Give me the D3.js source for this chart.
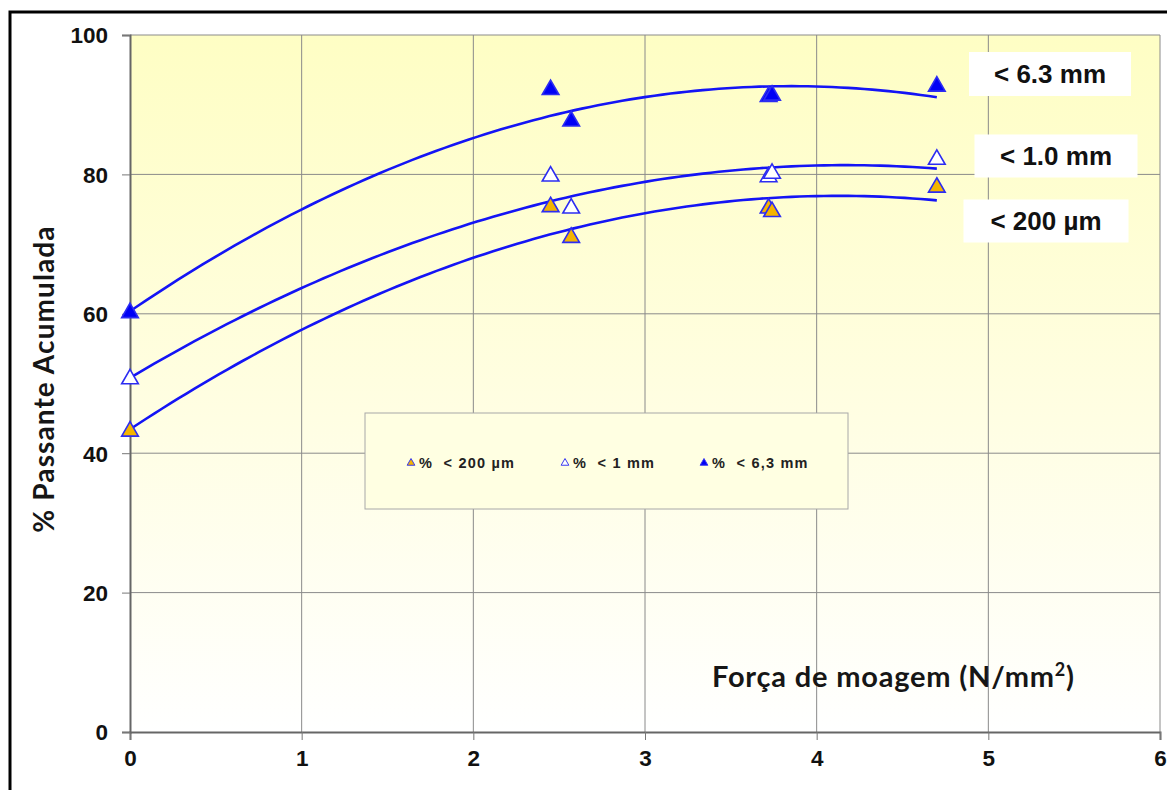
<!DOCTYPE html>
<html>
<head>
<meta charset="utf-8">
<script src="https://cdn.jsdelivr.net/npm/d3@7"></script>
<style>
  html, body { margin: 0; padding: 0; background: #fff; }
  svg { display: block; }
</style>
</head>
<body>
<svg id="chart" width="1167" height="790"></svg>
<script>
// Grinding force (N/mm²) for each test
const forca = [0, 2.45, 2.57, 3.72, 3.74, 4.7];
// Cumulative % passing for each size fraction
const passa200um = [43, 75.2, 70.8, 75, 74.5, 78];
const passa1mm   = [50.5, 79.6, 75, 79.5, 80, 82];
const passa63mm  = [60, 92, 87.5, 91, 91.2, 92.5];

const xTicks = [0, 1, 2, 3, 4, 5, 6];
const yTicks = [0, 20, 40, 60, 80, 100];

const series = [
  { key: "200um", values: passa200um, fill: "#F4B400", legend: "% < 200 µm", tag: "< 200 µm" },
  { key: "1mm",   values: passa1mm,   fill: "#FFFFFF", legend: "% < 1 mm",   tag: "< 1.0 mm" },
  { key: "63mm",  values: passa63mm,  fill: "#0000F5", legend: "% < 6,3 mm", tag: "< 6.3 mm" }
];

const svg = d3.select("#chart");
const plotL = 130, plotR = 1160, plotT = 35, plotB = 732;

const x = d3.scaleLinear().domain([0, 6]).range([plotL, plotR]);
const y = d3.scaleLinear().domain([0, 100]).range([plotB, plotT]);

// outer frame
svg.append("rect")
  .attr("x", 10).attr("y", 12).attr("width", 1170).attr("height", 800)
  .attr("fill", "none").attr("stroke", "#000").attr("stroke-width", 3);

// plot background gradient
const defs = svg.append("defs");
const grad = defs.append("linearGradient").attr("id", "bg")
  .attr("x1", 0).attr("y1", 0).attr("x2", 0).attr("y2", 1);
grad.append("stop").attr("offset", "0%").attr("stop-color", "#FEFEC4");
grad.append("stop").attr("offset", "55%").attr("stop-color", "#FFFEE3");
grad.append("stop").attr("offset", "100%").attr("stop-color", "#FFFFFF");

svg.append("rect")
  .attr("x", plotL).attr("y", plotT)
  .attr("width", plotR - plotL).attr("height", plotB - plotT)
  .attr("fill", "url(#bg)");

// grid lines
const grid = svg.append("g").attr("stroke", "#8a8a8a").attr("stroke-width", 1);
grid.selectAll("line.v").data(xTicks.slice(1)).join("line")
  .attr("x1", d => x(d)).attr("x2", d => x(d))
  .attr("y1", plotT).attr("y2", plotB);
grid.selectAll("line.h").data(yTicks.slice(1)).join("line")
  .attr("x1", plotL).attr("x2", plotR)
  .attr("y1", d => y(d)).attr("y2", d => y(d));

// axes
const xAxis = svg.append("g")
  .attr("transform", `translate(0,${plotB})`)
  .call(d3.axisBottom(x).tickValues(xTicks).tickSize(8).tickPadding(10).tickFormat(d3.format("d")));
const yAxis = svg.append("g")
  .attr("transform", `translate(${plotL},0)`)
  .call(d3.axisLeft(y).tickValues(yTicks).tickSize(8).tickPadding(14).tickFormat(d3.format("d")));
[xAxis, yAxis].forEach(a => {
  a.select(".domain").attr("stroke", "#666").attr("stroke-width", 2);
  a.selectAll(".tick line").attr("stroke", "#777").attr("stroke-width", 1);
  a.selectAll(".tick text")
    .attr("fill", "#111")
    .style("font-family", "'Liberation Sans', Arial, sans-serif")
    .style("font-weight", "bold")
    .style("font-size", "22.5px");
});
yAxis.selectAll(".tick text").attr("dy", "0.35em");

// quadratic least-squares trend for each series
function quadFit(xs, ys) {
  const n = xs.length;
  const s = [0, 0, 0, 0, 0], t = [0, 0, 0];
  for (let i = 0; i < n; i++) {
    const xi = xs[i], yi = ys[i];
    for (let k = 0; k <= 4; k++) s[k] += Math.pow(xi, k);
    for (let k = 0; k <= 2; k++) t[k] += yi * Math.pow(xi, k);
  }
  const A = [[s[0], s[1], s[2], t[0]], [s[1], s[2], s[3], t[1]], [s[2], s[3], s[4], t[2]]];
  for (let i = 0; i < 3; i++) {
    for (let j = i + 1; j < 3; j++) {
      const f = A[j][i] / A[i][i];
      for (let k = i; k < 4; k++) A[j][k] -= f * A[i][k];
    }
  }
  const c = [0, 0, 0];
  for (let i = 2; i >= 0; i--) {
    let v = A[i][3];
    for (let k = i + 1; k < 3; k++) v -= A[i][k] * c[k];
    c[i] = v / A[i][i];
  }
  return xv => c[0] + c[1] * xv + c[2] * xv * xv;
}

const line = d3.line().x(d => x(d[0])).y(d => y(d[1])).curve(d3.curveLinear);
const xMax = d3.max(forca);
series.forEach(s => {
  const f = quadFit(forca, s.values);
  const pts = d3.range(0, 101).map(i => { const xv = xMax * i / 100; return [xv, f(xv)]; });
  svg.append("path").datum(pts)
    .attr("d", line)
    .attr("fill", "none")
    .attr("stroke", "#1414F5")
    .attr("stroke-width", 2.6);
});

// markers
const tri = d3.symbol().type(d3.symbolTriangle).size(120);
series.forEach(s => {
  svg.append("g").selectAll("path").data(s.values).join("path")
    .attr("d", tri)
    .attr("transform", (d, i) => `translate(${x(forca[i])},${y(d) - 1})`)
    .attr("fill", s.fill)
    .attr("stroke", "#2C2CF2")
    .attr("stroke-width", 1.6);
});

// series tags on the right
const tags = [
  { s: series[2], cx: 1050, cy: 74, w: 162, h: 44 },
  { s: series[1], cx: 1056, cy: 156, w: 163, h: 43 },
  { s: series[0], cx: 1046, cy: 221, w: 165, h: 43 }
];
tags.forEach(t => {
  svg.append("rect")
    .attr("x", t.cx - t.w / 2).attr("y", t.cy - t.h / 2)
    .attr("width", t.w).attr("height", t.h).attr("fill", "#fff");
  svg.append("text")
    .attr("x", t.cx).attr("y", t.cy).attr("dy", "0.36em")
    .attr("text-anchor", "middle")
    .style("font-family", "'Liberation Sans', Arial, sans-serif")
    .style("font-weight", "bold").style("font-size", "26px")
    .attr("fill", "#111")
    .text(t.s.tag);
});

// legend
const lg = svg.append("g");
lg.append("rect")
  .attr("x", 365).attr("y", 413).attr("width", 483).attr("height", 96)
  .attr("fill", "#FFFFE2").attr("stroke", "#a8a8a8").attr("stroke-width", 1);
const legX = [411, 565, 704];
series.forEach((s, i) => {
  lg.append("path")
    .attr("d", d3.symbol().type(d3.symbolTriangle).size(26))
    .attr("transform", `translate(${legX[i]},${463})`)
    .attr("fill", s.fill).attr("stroke", "#3a3af0").attr("stroke-width", 1);
  lg.append("text")
    .attr("x", legX[i] + 8).attr("y", 463).attr("dy", "0.36em")
    .style("font-family", "'Liberation Sans', Arial, sans-serif")
    .style("font-weight", "bold").style("font-size", "14.5px")
    .style("letter-spacing", "1.2px")
    .style("white-space", "pre")
    .attr("fill", "#222")
    .text(s.legend.replace("% ", "%  "));
});

// axis titles
svg.append("text")
  .attr("transform", "translate(54,379) rotate(-90)")
  .attr("text-anchor", "middle")
  .style("font-family", "Lato, 'Open Sans', sans-serif")
  .style("font-weight", "bold").style("font-size", "28px")
  .style("letter-spacing", "1.1px")
  .attr("fill", "#161616")
  .text("% Passante Acumulada");

const xt = svg.append("text")
  .attr("x", 712).attr("y", 687)
  .style("font-family", "Lato, 'Open Sans', sans-serif")
  .style("font-weight", "bold").style("font-size", "29px")
  .style("letter-spacing", "0.8px")
  .attr("fill", "#161616");
xt.append("tspan").text("Força de moagem (N/mm");
xt.append("tspan").attr("dy", "-11").style("font-size", "18px").text("2");
xt.append("tspan").attr("dy", "11").text(")");
</script>
</body>
</html>
